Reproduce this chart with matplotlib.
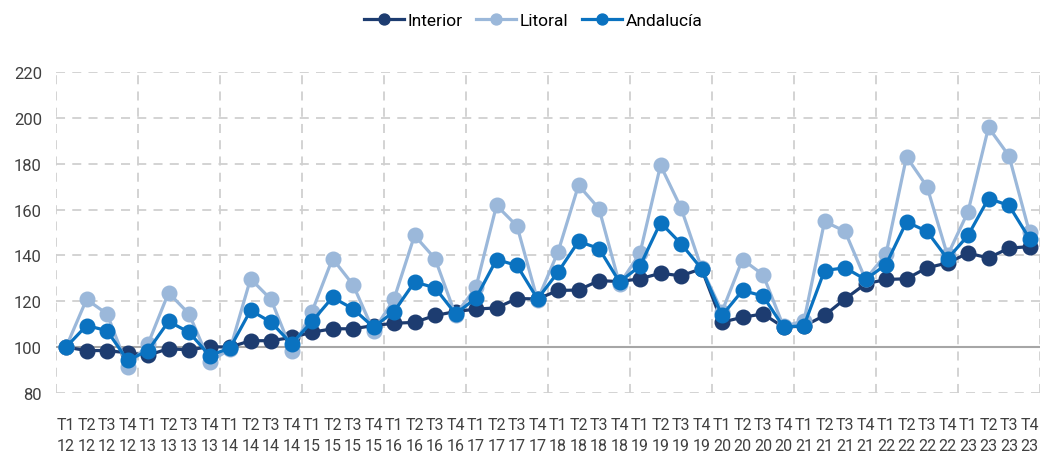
import numpy as np
import matplotlib
matplotlib.use('Agg')
import matplotlib.pyplot as plt

# Datos trimestrales (índice T1 2012 = 100)
trimestres = ['T1', 'T2', 'T3', 'T4']
anios = ['12', '13', '14', '15', '16', '17', '18', '19', '20', '21', '22', '23']
etiquetas = [t + '\n' + a for a in anios for t in trimestres]

interior = [100, 98.5, 98.5, 97.5, 96.5, 99.3, 98.8, 100.2,
            100, 102.8, 102.8, 104.2, 106.5, 108, 108, 109.4,
            110.4, 110.8, 113.8, 115.5, 116.6, 117.1, 121.2, 121,
            124.7, 124.9, 129, 128.6, 129.8, 132.2, 131.1, 134.2,
            110.9, 113, 114.5, 108.7, 109.2, 113.8, 121, 127.6,
            129.5, 129.8, 134.6, 136.7, 141, 138.9, 143.2, 143.8]
litoral = [100, 120.8, 114.5, 91.3, 101.4, 123.7, 114.5, 93.7,
           99, 129.8, 120.8, 98.5, 115.5, 138.6, 127.2, 107,
           121, 148.7, 138.6, 114, 126.2, 161.8, 152.8, 120.5,
           141.5, 170.6, 160.4, 127.5, 141, 179.3, 160.7, 134.5,
           115.5, 138.2, 131.6, 109, 111.5, 154.8, 150.5, 129.5,
           140.5, 183, 170, 140, 159, 195.8, 183.4, 150]
andalucia = [100, 109.4, 107.2, 94.2, 98.5, 111.2, 106.5, 96.3,
             99.6, 116, 110.9, 101.4, 111.2, 121.7, 116.7, 108.7,
             115.5, 128.4, 125.9, 114.5, 121.4, 138.2, 135.6, 121,
             132.7, 146.1, 143, 128.4, 135.4, 154.3, 145.1, 134.2,
             113.8, 124.7, 122.3, 108.7, 109.4, 133.4, 134.6, 129.5,
             136, 154.6, 150.5, 138.5, 148.7, 164.8, 161.8, 147.3]

c_int = '#1d3c70'
c_lit = '#9bb8da'
c_and = '#0a72c0'
gris_txt = '#404040'

plt.rcParams['font.family'] = ['Roboto', 'DejaVu Sans']

fig = plt.figure(figsize=(10.41, 4.56), dpi=100)
ax = fig.add_axes([0.0536, 0.136, 0.9452, 0.704])

x = np.arange(len(etiquetas))
ax.axhline(100, color='#a6a6a6', linewidth=1.5, zorder=1)

for serie, col, nom in [(interior, c_int, 'Interior'),
                        (litoral, c_lit, 'Litoral'),
                        (andalucia, c_and, 'Andalucía')]:
    ax.plot(x, serie, color=col, linewidth=2.3, marker='o', markersize=10.5,
            label=nom, zorder=3)

ax.set_xlim(-0.5, len(etiquetas) - 0.5)
ax.set_ylim(80, 220)
ax.set_yticks(np.arange(80, 221, 20))
ax.set_xticks(x)
ax.set_xticklabels(etiquetas, fontsize=11.5, color=gris_txt, linespacing=1.55)
ax.set_xticks(np.arange(-0.5, len(etiquetas), 4), minor=True)
ax.tick_params(axis='both', which='both', length=0)
ax.tick_params(axis='y', labelsize=12, labelcolor=gris_txt, pad=10)
ax.tick_params(axis='x', pad=17)

ax.grid(axis='y', which='major', color='#d0d0d0', linestyle=(0, (5, 4)), linewidth=1.3)
ax.grid(axis='x', which='minor', color='#d0d0d0', linestyle=(0, (5, 4)), linewidth=1.3)
ax.set_axisbelow(True)
for s in ax.spines.values():
    s.set_visible(False)

fig.legend(loc='center', bbox_to_anchor=(0.512, 0.952), ncol=3, frameon=False,
           fontsize=12.5, handlelength=2.3, columnspacing=0.8, handletextpad=0.2,
           markerscale=0.75)

fig.savefig('out.png', dpi=100)
